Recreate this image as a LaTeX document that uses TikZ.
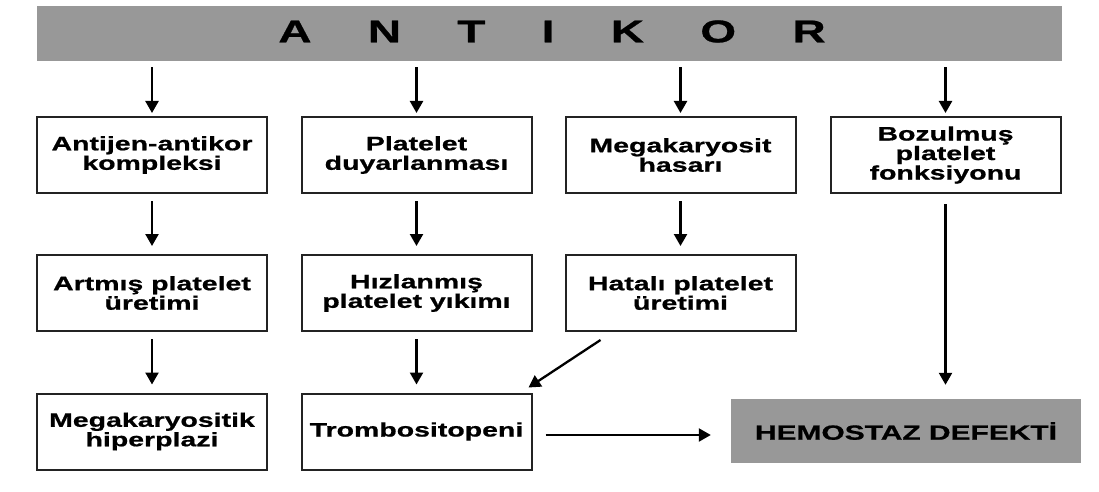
\documentclass[tikz,border=0pt]{standalone}
\usepackage{fontspec}
\newfontfamily\hv[FakeStretch=1.46, BoldFeatures={FakeBold=0.8}]{Liberation Sans}
\usetikzlibrary{arrows.meta}
\definecolor{bargray}{RGB}{152,152,152}
\definecolor{boxline}{RGB}{35,35,35}
\tikzset{
  box/.style={draw=boxline, line width=2pt, fill=white, minimum width=230pt, minimum height=76pt,
    inner sep=0pt, align=center, font=\hv\bfseries\fontsize{19.5}{19.5}\selectfont},
  graybox/.style={fill=bargray, inner sep=0pt},
  arr/.style={line width=2.3pt, -{Triangle[length=12pt,width=13pt]}},
}
\begin{document}
\begin{tikzpicture}[x=1pt,y=-1pt]
\useasboundingbox (0,0) rectangle (1099,492);
% top bar
\node[graybox, minimum width=1025pt, minimum height=55pt] (bar) at (549.5,33.5) {};
\node[font=\hv\bfseries\fontsize{31.5}{31.5}\selectfont, inner sep=0pt] (antikor) at (552,31.5)
  {A\hspace{56.3pt}N\hspace{56.3pt}T\hspace{56.3pt}I\hspace{56.3pt}K\hspace{56.3pt}O\hspace{56.3pt}R};
% row 1
\node[box] (b1) at (152,155) {Antijen-antikor\\kompleksi};
\node[box] (b2) at (416.5,155) {Platelet\\duyarlanması};
\node[box] (b3) at (680.5,155) {Megakaryosit\\hasarı};
\node[box] (b4) at (945.5,155) {Bozulmuş\\platelet\\fonksiyonu};
% row 2
\node[box] (c1) at (152,293) {Artmış platelet\\üretimi};
\node[box] (c2) at (416.5,293) {Hızlanmış\\platelet yıkımı};
\node[box] (c3) at (680.5,293) {Hatalı platelet\\üretimi};
% row 3
\node[box] (d1) at (152,431.5) {Megakaryositik\\hiperplazi};
\node[box] (d2) at (416.5,431.5) {Trombositopeni};
\node[graybox, minimum width=350pt, minimum height=64pt, font=\hv\bfseries\fontsize{20.5}{20.5}\selectfont] (hem) at (906,431) {HEMOSTAZ DEFEKTİ};
% arrows from bar
\foreach \n in {b1,b2,b3,b4}{
  \draw[arr, shorten >=3pt] ([yshift=-6pt]bar.south -| \n.north) -- (\n.north);
}
% vertical arrows between rows
\foreach \a/\b in {b1/c1,b2/c2,b3/c3,c1/d1,c2/d2}{
  \draw[arr, shorten >=8pt, shorten <=7pt] (\a.south) -- (\b.north);
}
% column 4 to hemostaz
\draw[arr, shorten <=10pt, shorten >=14pt] (b4.south) -- (b4.south |- hem.north);
% diagonal
\draw[arr] ([shift={(36,8)}]c3.south west) -- ([shift={(-4,-5)}]d2.north east);
% horizontal
\draw[arr] ([xshift=13pt,yshift=-3.5pt]d2.east) -- ([xshift=-20pt,yshift=-4pt]hem.west);
\end{tikzpicture}
\end{document}
